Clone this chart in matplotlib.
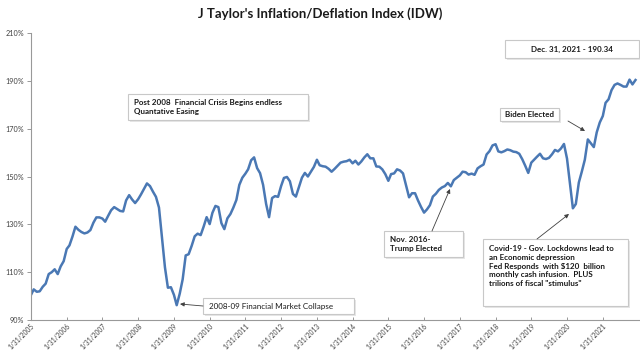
import matplotlib
matplotlib.use("Agg")
import matplotlib.pyplot as plt
from matplotlib.patches import Rectangle
import pandas as pd

plt.rcParams['font.family'] = ['Lato', 'DejaVu Sans']

title = "J Taylor's Inflation/Deflation Index (IDW)"
start_date = "2005-01-31"
values = [
    100.5, 102.8, 101.8, 102.0, 103.9, 105.2, 109.2, 110.0, 111.2, 109.2, 112.4, 114.6,
    119.7, 121.2, 124.9, 129.0, 127.7, 126.8, 126.2, 126.6, 127.6, 130.7, 132.9, 132.9,
    132.4, 131.1, 133.6, 135.9, 137.2, 136.4, 135.6, 135.4, 140.0, 142.2, 140.4, 138.9,
    140.5, 142.5, 144.8, 147.1, 146.0, 143.7, 141.5, 137.0, 124.8, 112.0, 103.5, 103.7,
    100.5, 96.2, 101.0, 107.0, 117.0, 117.5, 121.0, 125.0, 126.1, 125.5, 129.0, 133.0,
    130.1, 134.8, 137.7, 137.2, 130.5, 128.0, 132.5, 134.3, 137.0, 140.2, 146.5, 149.5,
    151.2, 153.0, 156.8, 158.0, 153.5, 151.4, 146.5, 138.5, 133.0, 141.0, 141.8, 141.5,
    146.0, 149.4, 149.8, 148.0, 142.7, 141.6, 145.6, 149.5, 151.5, 150.0, 152.0, 154.0,
    157.0, 154.7, 154.3, 154.1, 153.2, 152.0, 153.2, 154.5, 155.8, 156.2, 156.4, 157.0,
    155.5, 156.6, 155.0, 156.3, 158.0, 159.3, 157.6, 157.6, 154.2, 154.1, 153.0, 151.0,
    148.2, 151.0, 151.3, 153.0, 152.5, 151.3, 146.3, 141.3, 143.0, 143.0, 140.0, 137.3,
    134.9, 136.2, 138.0, 141.6, 142.8, 144.4, 145.4, 146.0, 147.3, 145.9, 148.5, 149.5,
    150.5, 152.0, 151.8, 150.8, 151.2, 150.7, 153.4, 154.3, 155.0, 159.2, 160.6, 163.0,
    163.5, 160.5, 160.1, 160.6, 161.3, 161.0, 160.4, 160.2, 159.5, 157.2, 154.5, 151.5,
    155.8, 157.0, 158.3, 159.5, 157.6, 157.3, 157.8, 159.3, 161.1, 160.5, 161.7, 163.6,
    157.5, 147.5, 136.7, 138.5, 147.5, 152.0, 157.0, 165.5, 163.9, 162.3, 168.5, 172.6,
    175.3, 180.8, 182.3, 186.1, 188.3, 188.9, 188.3, 187.6, 187.6, 190.5, 188.5, 190.34,
]
tick_years = list(range(2005, 2022))
tick_labels = [f"1/31/{y}" for y in tick_years]
y_ticks = [90, 110, 130, 150, 170, 190, 210]
y_tick_labels = [f"{v}%" for v in y_ticks]

dates = pd.date_range(start_date, periods=len(values), freq="ME")
tick_dates = [pd.Timestamp(f"{y}-01-31") for y in tick_years]

W, H = 640, 355
fig = plt.figure(figsize=(6.4, 3.55), dpi=100)
ax = fig.add_axes([31 / W, 35 / H, 609 / W, 287 / H])
ax.plot(dates, values, color="#4a78b4", lw=1.8, solid_joinstyle="round")

ax.set_ylim(90, 210)
ax.set_xlim(pd.Timestamp("2005-01-31"), pd.Timestamp("2022-02-15"))
ax.set_yticks(y_ticks)
ax.set_yticklabels(y_tick_labels, fontsize=5.2, color="#404040")
ax.set_xticks(tick_dates)
ax.set_xticklabels(tick_labels, rotation=45, ha="right", rotation_mode="anchor",
                   fontsize=4.8, color="#404040")
ax.tick_params(axis="y", length=3, width=0.6, color="#888888", pad=2, direction="out")
ax.tick_params(axis="x", length=2.5, width=0.6, color="#888888", pad=2, direction="in")
for s in ["top", "right"]:
    ax.spines[s].set_visible(False)
for s in ["left", "bottom"]:
    ax.spines[s].set_color("#999999")
    ax.spines[s].set_linewidth(0.8)

fig.text(0.5, 1 - 14 / H, title, ha="center", va="center", fontsize=9.5,
         fontweight="bold", color="#1a1a1a")


def px(x, y):
    return (x / W, 1 - y / H)


def box(x0, y0, x1, y1):
    # light shadow then box
    fig.add_artist(Rectangle(((x0 + 1.5) / W, 1 - (y1 + 1.5) / H), (x1 - x0) / W, (y1 - y0) / H,
                             transform=fig.transFigure, fc="#e6e6e6", ec="none", zorder=4))
    fig.add_artist(Rectangle((x0 / W, 1 - y1 / H), (x1 - x0) / W, (y1 - y0) / H,
                             transform=fig.transFigure, fc="white", ec="#c8c8c8", lw=0.8, zorder=5))


def arrow(x0, y0, x1, y1):
    fig.add_artist(plt.Annotation("", xy=px(x1, y1), xytext=px(x0, y0),
                                  xycoords="figure fraction", textcoords="figure fraction",
                                  arrowprops=dict(arrowstyle="-|>", color="#404040", lw=0.6,
                                                  mutation_scale=6, shrinkA=0, shrinkB=0),
                                  zorder=6))


tk = dict(fontsize=5.8, color="#1a1a1a", zorder=7, linespacing=1.3)

# Post 2008 box
box(128, 94, 308, 120)
fig.text(*px(134, 107), "Post 2008  Financial Crisis Begins endless\nQuantative Easing",
         ha="left", va="center", fontweight="bold", **tk)

# Dec 31 box
box(505, 40, 639, 58)
fig.text(*px(572, 49), "Dec. 31, 2021 - 190.34", ha="center", va="center",
         fontweight="bold", **tk)

# 2008-09 collapse
box(203, 298, 354, 314)
fig.text(*px(209, 306), "2008-09 Financial Market Collapse", ha="left", va="center", **tk)
arrow(203, 306, 180, 304)

# Trump
box(384, 231, 463, 257)
fig.text(*px(390, 244), "Nov. 2016-\nTrump Elected", ha="left", va="center",
         fontweight="bold", **tk)
arrow(432, 231, 450, 189)

# Covid
box(483, 239, 628, 306)
fig.text(*px(489, 245), "Covid-19 - Gov. Lockdowns lead to\nan Economic depression\nFed Responds  with $120  billion\nmonthly cash infusion.  PLUS\ntrilions of fiscal \"stimulus\"",
         ha="left", va="top", fontweight="bold", **tk)
arrow(537, 239, 569, 214)

# Biden
box(500, 108, 559, 121)
fig.text(*px(505, 114.5), "Biden Elected", ha="left", va="center", fontweight="bold", **tk)
arrow(568, 121, 585, 131)

fig.savefig("out.png", dpi=100, facecolor="white")
